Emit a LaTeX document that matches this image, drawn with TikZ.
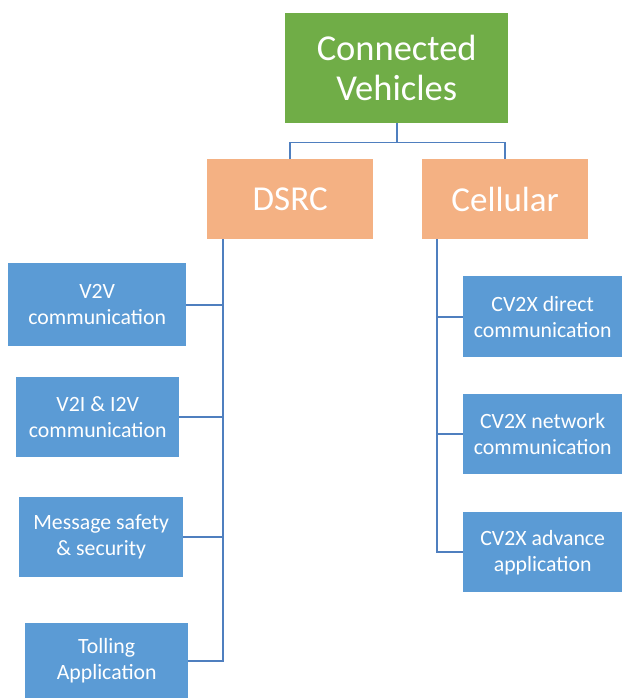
\documentclass[tikz,border=0pt]{standalone}
\usepackage{fontspec}
\setmainfont{Carlito}
\usetikzlibrary{positioning}

\definecolor{cvgreen}{HTML}{70AD47}
\definecolor{cvorange}{HTML}{F4B183}
\definecolor{cvblue}{HTML}{5B9BD5}
\definecolor{cvline}{HTML}{4F7FBF}

\begin{document}
\begin{tikzpicture}[x=1pt, y=-1pt,
  box/.style={fill=#1, text=white, align=center, inner sep=0pt, anchor=north west},
  top/.style={box=cvgreen, minimum width=223pt, minimum height=110pt, font=\fontsize{36.5}{40}\selectfont},
  tech/.style={box=cvorange, minimum width=166pt, minimum height=80pt, font=\fontsize{35}{40}\selectfont},
  item/.style={box=cvblue, minimum height=80pt, font=\fontsize{21.8}{26}\selectfont},
  link/.style={cvline, line width=1.8pt}]

\useasboundingbox (0,0) rectangle (622,698);
\fill[white] (0,0) rectangle (622,698);
\clip (0,0) rectangle (622,698);

% root and the two technologies
\node[top] (cv) at (285,13) {Connected\\Vehicles};
\node[tech] (dsrc) at (207,159) {DSRC};
\node[tech] (cell) at (422,159) {Cellular};

% DSRC side
\node[item, minimum width=178pt, minimum height=83pt] (v2v) at (8,263) {V2V\\communication};
\node[item, minimum width=163pt] (v2i) at (16,377) {V2I \& I2V\\communication};
\node[item, minimum width=164pt] (msg) at (19,497) {Message safety\\\& security};
\node[item, minimum width=163pt, minimum height=75pt] (toll) at (25,623) {Tolling\\Application};

% cellular side
\node[item, minimum width=159pt, minimum height=81pt] (direct) at (463,276) {CV2X direct\\communication};
\node[item, minimum width=159pt] (network) at (463,394) {CV2X network\\communication};
\node[item, minimum width=159pt] (advance) at (463,512) {CV2X advance\\application};

% tree lines
\coordinate (split) at ([yshift=-19pt]cv.south);
\draw[link] (cv.south) -- (split);
\draw[link] (dsrc.north) |- (split) -| (cell.north);

\coordinate (dtrunk) at ([xshift=16pt]dsrc.south west);
\coordinate (ctrunk) at ([xshift=15pt]cell.south west);

\draw[link] (dtrunk) |- (toll.east);
\foreach \n in {v2v, v2i, msg}
  \draw[link] (dtrunk |- \n.east) -- (\n.east);

\draw[link] (ctrunk) |- (advance.west);
\foreach \n in {direct, network}
  \draw[link] (ctrunk |- \n.west) -- (\n.west);

\end{tikzpicture}
\end{document}
